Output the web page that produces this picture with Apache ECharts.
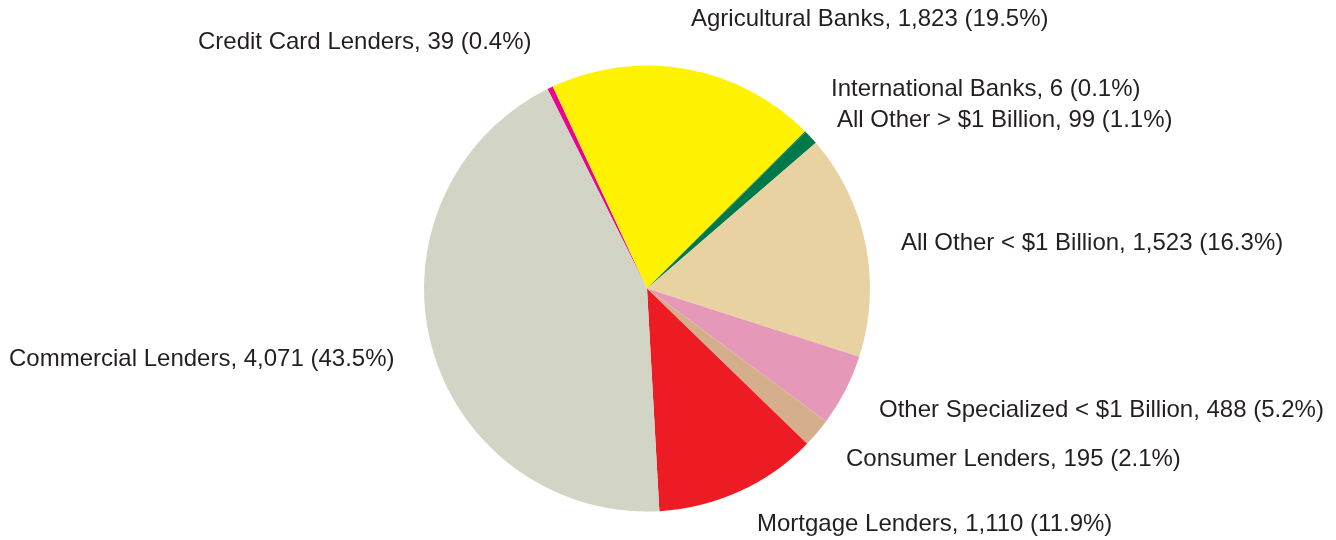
<!DOCTYPE html>
<html>
<head>
<meta charset="utf-8">
<script src="https://cdn.jsdelivr.net/npm/echarts@6/dist/echarts.min.js"></script>
<style>
  html, body { margin: 0; padding: 0; background: #fff; }
  #chart { width: 1336px; height: 540px; }
</style>
</head>
<body>
<div id="chart"></div>
<script>
// bank categories, clockwise from the top
var categories = [
  'Credit Card Lenders',
  'Agricultural Banks',
  'International Banks',
  'All Other > $1 Billion',
  'All Other < $1 Billion',
  'Other Specialized < $1 Billion',
  'Consumer Lenders',
  'Mortgage Lenders',
  'Commercial Lenders'
];
var counts = [39, 1823, 6, 99, 1523, 488, 195, 1110, 4071];
var colors = ['#ec008c', '#fff200', '#00784a', '#00784a', '#e8d2a1', '#e598b8', '#d5af8b', '#ed1c24', '#d2d5c5'];

// where each label sits (left edge, vertical middle)
var labelPos = [
  [198, 42], [691, 19.5], [831, 89.5], [837, 120.5], [901, 243.5],
  [879, 410.5], [846, 459.5], [757, 524.5], [9, 359.5]
];

var total = counts.reduce(function (a, b) { return a + b; }, 0);

var chart = echarts.init(document.getElementById('chart'));

var option = {
  animation: false,
  series: [{
    type: 'pie',
    center: [647, 288.5],
    radius: [0, 223],
    startAngle: 116.5,
    clockwise: true,
    avoidLabelOverlap: false,
    silent: true,
    data: categories.map(function (name, i) {
      return { name: name, value: counts[i], itemStyle: { color: colors[i] } };
    }),
    itemStyle: { borderWidth: 0 },
    label: {
      show: true,
      position: 'outside',
      color: '#231f20',
      fontFamily: 'Liberation Sans, Arial, sans-serif',
      fontSize: 24,
      formatter: function (p) {
        var pct = (p.value * 100 / total).toFixed(1);
        return p.name + ', ' + p.value.toLocaleString('en-US') + ' (' + pct + '%)';
      }
    },
    labelLine: { show: false },
    labelLayout: function (p) {
      var pos = labelPos[p.dataIndex];
      return { x: pos[0], y: pos[1], align: 'left', verticalAlign: 'middle' };
    }
  }]
};

chart.setOption(option);
</script>
</body>
</html>
